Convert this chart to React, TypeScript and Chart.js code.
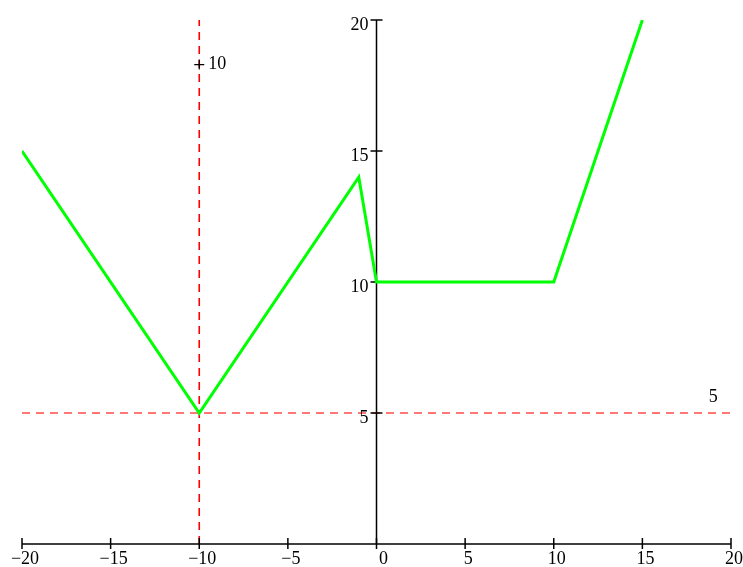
import React, { useEffect, useRef } from "react";
import { Chart, registerables } from "chart.js";

Chart.register(...registerables);

// Data
const lineX = [-20, -10, -1, 0, 10, 15];
const lineY = [15, 5, 14, 10, 10, 20];
const xTicks = [-20, -15, -10, -5, 0, 5, 10, 15, 20];
const yTicks = [5, 10, 15, 20];
const vLineX = -10;
const hLineY = 5;
const vLabel = { x: -10, y: 18.3, text: "10" };
const hLabel = { x: 19, y: 5.6, text: "5" };

const fmt = (v: number) => (v < 0 ? "\u2212" + Math.abs(v) : String(v));

const axesPlugin = {
  id: "mapleAxes",
  beforeDatasetDraw(chart: any, args: any) {
    if (args.index !== 0) return;
    const ctx = chart.ctx;
    const xs = chart.scales.x;
    const ys = chart.scales.y;
    const x0 = xs.getPixelForValue(0);
    const y0 = ys.getPixelForValue(0);
    ctx.save();
    ctx.strokeStyle = "#000";
    ctx.fillStyle = "#000";
    ctx.lineWidth = 1.5;
    // x axis line
    ctx.beginPath();
    ctx.moveTo(xs.getPixelForValue(xs.min), y0);
    ctx.lineTo(xs.getPixelForValue(xs.max), y0);
    ctx.stroke();
    // y axis line
    ctx.beginPath();
    ctx.moveTo(x0, ys.getPixelForValue(ys.max));
    ctx.lineTo(x0, y0);
    ctx.stroke();
    // x ticks
    ctx.font = '18px "Liberation Serif", "DejaVu Serif", serif';
    ctx.textAlign = "center";
    ctx.textBaseline = "alphabetic";
    xTicks.forEach((v) => {
      const px = xs.getPixelForValue(v);
      ctx.beginPath();
      ctx.moveTo(px, y0 - 6);
      ctx.lineTo(px, y0 + 5);
      ctx.stroke();
      const off = v === 0 ? 7 : 3;
      ctx.fillText(fmt(v), px + off, y0 + 20);
    });
    // y ticks
    ctx.textAlign = "right";
    yTicks.forEach((v) => {
      const py = ys.getPixelForValue(v);
      ctx.beginPath();
      ctx.moveTo(x0 - 6, py);
      ctx.lineTo(x0 + 6, py);
      ctx.stroke();
      ctx.fillText(fmt(v), x0 - 8, py + 9.5);
    });
    // annotation on the vertical line
    const vx = xs.getPixelForValue(vLabel.x);
    const vy = ys.getPixelForValue(vLabel.y);
    ctx.lineWidth = 1.2;
    ctx.beginPath();
    ctx.moveTo(vx - 5, vy);
    ctx.lineTo(vx + 5, vy);
    ctx.moveTo(vx, vy - 5);
    ctx.lineTo(vx, vy + 5);
    ctx.stroke();
    ctx.textAlign = "left";
    ctx.textBaseline = "middle";
    ctx.fillText(vLabel.text, vx + 9, vy);
    // annotation on the horizontal line
    ctx.textAlign = "center";
    ctx.fillText(hLabel.text, xs.getPixelForValue(hLabel.x), ys.getPixelForValue(hLabel.y));
    ctx.restore();
  },
};

export default function App() {
  const ref = useRef<HTMLCanvasElement>(null);
  useEffect(() => {
    if (!ref.current) return;
    const chart = new Chart(ref.current, {
      type: "scatter",
      data: {
        datasets: [
          {
            data: lineX.map((x, i) => ({ x, y: lineY[i] })),
            showLine: true,
            borderColor: "#00ff00",
            borderWidth: 3,
            pointRadius: 0,
            tension: 0,
          },
          {
            data: [
              { x: vLineX, y: 0 },
              { x: vLineX, y: 20 },
            ],
            showLine: true,
            borderColor: "#ff0000",
            borderWidth: 1.6,
            borderDash: [8, 6],
            pointRadius: 0,
          },
          {
            data: [
              { x: -20, y: hLineY },
              { x: 20, y: hLineY },
            ],
            showLine: true,
            borderColor: "rgba(255,30,30,0.8)",
            borderWidth: 1.4,
            borderDash: [8, 6],
            pointRadius: 0,
          },
        ],
      },
      options: {
        animation: false,
        responsive: false,
        layout: { padding: { left: 22, right: 12, top: 20, bottom: 23 } },
        plugins: { legend: { display: false }, tooltip: { enabled: false } },
        scales: {
          x: { type: "linear", min: -20, max: 20, display: false },
          y: { type: "linear", min: 0, max: 20, display: false },
        },
      },
      plugins: [axesPlugin],
    });
    return () => chart.destroy();
  }, []);
  return (
    <div style={{ position: "absolute", left: 0, top: 0, width: 743, height: 567, background: "#fff" }}>
      <canvas ref={ref} width={743} height={567} />
    </div>
  );
}
